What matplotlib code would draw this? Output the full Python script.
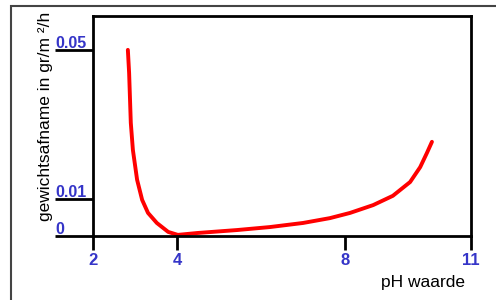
import numpy as np
import matplotlib
matplotlib.use('Agg')
import matplotlib.pyplot as plt
from matplotlib.patches import Rectangle

plt.rcParams['font.family'] = ['Liberation Sans', 'DejaVu Sans']

# data
ph = [2.83, 2.86, 2.90, 2.95, 3.05, 3.17, 3.31, 3.52, 3.79, 4.02, 4.48,
      5.43, 6.21, 7.00, 7.64, 8.12, 8.67, 9.14, 9.55, 9.79, 9.95, 10.07]
afname = [0.0500, 0.0438, 0.0304, 0.0231, 0.0151, 0.0097, 0.0062, 0.0035,
          0.0011, 0.0003, 0.0008, 0.0016, 0.0024, 0.0035, 0.0048, 0.0062,
          0.0083, 0.0108, 0.0145, 0.0185, 0.0223, 0.0253]
xticks = [2, 4, 8, 11]
yticks = [0, 0.01, 0.05]
ytick_labels = ['0', '0.01', '0.05']

blue = '#3535c8'

fig = plt.figure(figsize=(4.96, 3.0), dpi=100)
ax = fig.add_axes([93/496, 64/300, 378/496, 220/300])

# outer grey frame running off the right and bottom edge
fig.patches.append(Rectangle((11/496, -0.1), 2, 1.1 - 6/300, transform=fig.transFigure,
                             fill=False, edgecolor='#444444', lw=1.5))

ax.plot(ph, afname, color='red', lw=2.8, solid_capstyle='round')

ax.set_xlim(2, 11)
ax.set_ylim(0, 0.0591)
for s in ax.spines.values():
    s.set_linewidth(2.0)

ax.set_xticks(xticks)
ax.set_xticklabels([str(t) for t in xticks], color=blue, fontsize=12, fontweight='bold')
ax.tick_params(axis='x', length=10, width=2.0, pad=2)

ax.set_yticks(yticks)
ax.set_yticklabels([])
ax.tick_params(axis='y', length=27.4, width=2.0)
for v, lab in zip(yticks, ytick_labels):
    ax.annotate(lab, xy=(0, v), xycoords=('axes fraction', 'data'),
                xytext=(-27.4, 1.4), textcoords='offset points',
                ha='left', va='baseline', color=blue, fontsize=11.5, fontweight='bold')

fig.text(46/496, 1 - 116/300, 'gewichtsafname in gr/m \u00b2/h', rotation=90,
         ha='center', va='center', fontsize=12.5)
fig.text(465/496, 1 - 287/300, 'pH waarde', ha='right', va='baseline', fontsize=12.5)

fig.savefig('out.png', dpi=100)
